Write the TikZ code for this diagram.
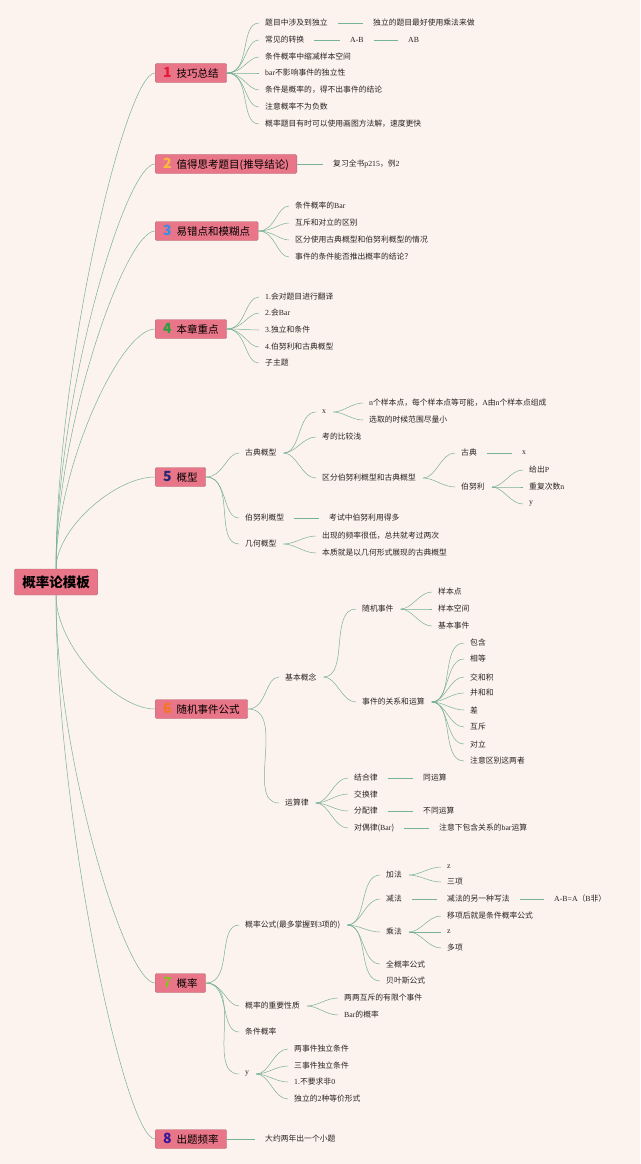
\documentclass[tikz,border=0pt]{standalone}
\usepackage{fontspec}
\setmainfont{Noto Sans CJK SC}
\newfontfamily\lafont{Liberation Serif}
\newcommand\lx[1]{{\lafont #1}}

\definecolor{bgpeach}{RGB}{253,243,238}
\definecolor{boxpink}{RGB}{233,118,136}
\definecolor{boxline}{RGB}{176,112,118}
\definecolor{linkgreen}{RGB}{118,178,148}
\definecolor{leaftext}{RGB}{40,36,36}
\definecolor{numA}{RGB}{228,28,56}
\definecolor{numB}{RGB}{250,188,58}
\definecolor{numC}{RGB}{58,140,228}
\definecolor{numD}{RGB}{42,160,62}
\definecolor{numE}{RGB}{38,38,118}
\definecolor{numF}{RGB}{245,118,32}
\definecolor{numG}{RGB}{140,190,40}
\definecolor{numH}{RGB}{52,22,150}

\newcommand\tnum[2]{{\color{#1}\fontsize{14}{14}\selectfont\bfseries #2}\hspace{5pt}}

\tikzset{
  root/.style={draw=boxline, fill=boxpink, rounded corners=1.5pt, inner xsep=8pt,
    minimum height=26pt, font=\fontsize{13.5}{15}\selectfont\bfseries},
  topic/.style={draw=boxline, fill=boxpink, rounded corners=1.5pt, inner xsep=8pt,
    minimum height=19pt, anchor=west, font=\fontsize{10.5}{12}\selectfont},
  leaf/.style={anchor=west, inner sep=1pt, text=leaftext, font=\fontsize{7.8}{9}\selectfont},
  link/.style={draw=linkgreen, line width=0.5pt},
  tfan/.style={link, shorten >=5pt},
  fan/.style={link, shorten <=6pt, shorten >=5pt},
  bar/.style={link, shorten <=9pt, shorten >=9pt},
}

\begin{document}
\begin{tikzpicture}[x=1pt, y=-1pt]

  % Background and page size
  \fill[bgpeach] (0,0) rectangle (640,1164);
  \useasboundingbox (0,0) rectangle (640,1164);

  % Root
  \node[root] (root) at (56,582) {概率论模板};

  % Main topics
  \node[topic] (t1) at (155,73) {\tnum{numA}{1}技巧总结};
  \node[topic] (t2) at (155,164) {\tnum{numB}{2}值得思考题目(推导结论)};
  \node[topic] (t3) at (155,231) {\tnum{numC}{3}易错点和模糊点};
  \node[topic] (t4) at (155,329) {\tnum{numD}{4}本章重点};
  \node[topic] (t5) at (155,477) {\tnum{numE}{5}概型};
  \node[topic] (t6) at (155,709) {\tnum{numF}{6}随机事件公式};
  \node[topic] (t7) at (155,983) {\tnum{numG}{7}概率};
  \node[topic] (t8) at (155,1139) {\tnum{numH}{8}出题频率};

  % Root to topics
  \draw[link] (root.north) to[out=90,in=180,out distance=200pt,in distance=30pt] (t1.west);
  \draw[link] (root.north) to[out=90,in=180,out distance=170pt,in distance=30pt] (t2.west);
  \draw[link] (root.north) to[out=90,in=180,out distance=140pt,in distance=30pt] (t3.west);
  \draw[link] (root.north) to[out=90,in=180,out distance=100pt,in distance=35pt] (t4.west);
  \draw[link] (root.north) to[out=90,in=180,out distance=40pt,in distance=40pt] (t5.west);
  \draw[link] (root.south) to[out=-90,in=180,out distance=50pt,in distance=40pt] (t6.west);
  \draw[link] (root.south) to[out=-90,in=180,out distance=160pt,in distance=30pt] (t7.west);
  \draw[link] (root.south) to[out=-90,in=180,out distance=220pt,in distance=30pt] (t8.west);

  % Topic 1
  \node[leaf] (a1) at (264,23) {题目中涉及到独立};
  \node[leaf] (a1a) at (372,23) {独立的题目最好使用乘法来做};
  \node[leaf] (a2) at (264,40) {常见的转换};
  \node[leaf] (a2a) at (349,40) {\lx{A-B}};
  \node[leaf] (a2b) at (407,40) {\lx{AB}};
  \node[leaf] (a3) at (264,57) {条件概率中缩减样本空间};
  \node[leaf] (a4) at (264,73) {\lx{bar}不影响事件的独立性};
  \node[leaf] (a5) at (264,90) {条件是概率的，得不出事件的结论};
  \node[leaf] (a6) at (264,107) {注意概率不为负数};
  \node[leaf] (a7) at (264,124) {概率题目有时可以使用画图方法解，速度更快};
  \foreach \c in {a1,a2,a3,a4,a5,a6,a7}
    \draw[tfan] (t1.east) to[out=0,in=180] (\c.west);
  \draw[bar] (a1) -- (a1a);
  \draw[bar] (a2) -- (a2a);
  \draw[bar] (a2a) -- (a2b);

  % Topic 2
  \node[leaf] (b1) at (332,164) {复习全书\lx{p215}，例\lx{2}};
  \draw[link, shorten >=9pt] (t2.east) -- (b1.west);

  % Topic 3
  \node[leaf] (c1) at (294,206) {条件概率的\lx{Bar}};
  \node[leaf] (c2) at (294,223) {互斥和对立的区别};
  \node[leaf] (c3) at (294,240) {区分使用古典概型和伯努利概型的情况};
  \node[leaf] (c4) at (294,257) {事件的条件能否推出概率的结论？};
  \foreach \c in {c1,c2,c3,c4}
    \draw[tfan] (t3.east) to[out=0,in=180] (\c.west);

  % Topic 4
  \node[leaf] (d1) at (264,297) {\lx{1.}会对题目进行翻译};
  \node[leaf] (d2) at (264,313) {\lx{2.}会\lx{Bar}};
  \node[leaf] (d3) at (264,330) {\lx{3.}独立和条件};
  \node[leaf] (d4) at (264,347) {\lx{4.}伯努利和古典概型};
  \node[leaf] (d5) at (264,363) {子主题};
  \foreach \c in {d1,d2,d3,d4,d5}
    \draw[tfan] (t4.east) to[out=0,in=180] (\c.west);

  % Topic 5
  \node[leaf] (e1) at (244,453) {古典概型};
  \node[leaf] (e11) at (321,412) {\lx{x}};
  \node[leaf] (e111) at (368,403) {\lx{n}个样本点，每个样本点等可能，\lx{A}由\lx{n}个样本点组成};
  \node[leaf] (e112) at (368,420) {选取的时候范围尽量小};
  \node[leaf] (e12) at (321,437) {考的比较浅};
  \node[leaf] (e13) at (321,478) {区分伯努利概型和古典概型};
  \node[leaf] (e131) at (460,453) {古典};
  \node[leaf] (e1311) at (521,453) {\lx{x}};
  \node[leaf] (e132) at (460,487) {伯努利};
  \node[leaf] (e1321) at (528,470) {给出\lx{P}};
  \node[leaf] (e1322) at (528,487) {重复次数\lx{n}};
  \node[leaf] (e1323) at (528,504) {\lx{y}};
  \node[leaf] (e2) at (244,518) {伯努利概型};
  \node[leaf] (e21) at (328,518) {考试中伯努利用得多};
  \node[leaf] (e3) at (244,544) {几何概型};
  \node[leaf] (e31) at (321,536) {出现的频率很低，总共就考过两次};
  \node[leaf] (e32) at (321,553) {本质就是以几何形式展现的古典概型};
  \foreach \c in {e1,e2,e3}
    \draw[tfan] (t5.east) to[out=0,in=180] (\c.west);
  \foreach \c in {e11,e12,e13}
    \draw[fan] (e1.east) to[out=0,in=180] (\c.west);
  \foreach \c in {e111,e112}
    \draw[fan] (e11.east) to[out=0,in=180] (\c.west);
  \foreach \c in {e131,e132}
    \draw[fan] (e13.east) to[out=0,in=180] (\c.west);
  \foreach \c in {e1321,e1322,e1323}
    \draw[fan] (e132.east) to[out=0,in=180] (\c.west);
  \foreach \c in {e31,e32}
    \draw[fan] (e3.east) to[out=0,in=180] (\c.west);
  \draw[bar] (e131) -- (e1311);
  \draw[bar] (e2) -- (e21);

  % Topic 6
  \node[leaf] (f1) at (284,677) {基本概念};
  \node[leaf] (f11) at (361,609) {随机事件};
  \node[leaf] (f111) at (437,592) {样本点};
  \node[leaf] (f112) at (437,609) {样本空间};
  \node[leaf] (f113) at (437,626) {基本事件};
  \node[leaf] (f12) at (361,702) {事件的关系和运算};
  \node[leaf] (f121) at (469,643) {包含};
  \node[leaf] (f122) at (469,659) {相等};
  \node[leaf] (f123) at (469,677) {交和积};
  \node[leaf] (f124) at (469,693) {并和和};
  \node[leaf] (f125) at (469,710) {差};
  \node[leaf] (f126) at (469,727) {互斥};
  \node[leaf] (f127) at (469,744) {对立};
  \node[leaf] (f128) at (469,761) {注意区别这两者};
  \node[leaf] (f2) at (284,803) {运算律};
  \node[leaf] (f21) at (353,778) {结合律};
  \node[leaf] (f21a) at (422,778) {同运算};
  \node[leaf] (f22) at (353,794) {交换律};
  \node[leaf] (f23) at (353,811) {分配律};
  \node[leaf] (f23a) at (422,811) {不同运算};
  \node[leaf] (f24) at (353,828) {对偶律(\lx{Bar})};
  \node[leaf] (f24a) at (438,828) {注意下包含关系的\lx{bar}运算};
  \foreach \c in {f1,f2}
    \draw[tfan] (t6.east) to[out=0,in=180] (\c.west);
  \foreach \c in {f11,f12}
    \draw[fan] (f1.east) to[out=0,in=180] (\c.west);
  \foreach \c in {f111,f112,f113}
    \draw[fan] (f11.east) to[out=0,in=180] (\c.west);
  \foreach \c in {f121,f122,f123,f124,f125,f126,f127,f128}
    \draw[fan] (f12.east) to[out=0,in=180] (\c.west);
  \foreach \c in {f21,f22,f23,f24}
    \draw[fan] (f2.east) to[out=0,in=180] (\c.west);
  \draw[bar] (f21) -- (f21a);
  \draw[bar] (f23) -- (f23a);
  \draw[bar] (f24) -- (f24a);

  % Topic 7
  \node[leaf] (g1) at (244,925) {概率公式(最多掌握到\lx{3}项的)};
  \node[leaf] (g11) at (385,875) {加法};
  \node[leaf] (g111) at (446,867) {\lx{z}};
  \node[leaf] (g112) at (446,882) {三项};
  \node[leaf] (g12) at (385,899) {减法};
  \node[leaf] (g121) at (446,899) {减法的另一种写法};
  \node[leaf] (g1211) at (553,899) {\lx{A-B=A}（\lx{B}非）};
  \node[leaf] (g13) at (385,932) {乘法};
  \node[leaf] (g131) at (446,916) {移项后就是条件概率公式};
  \node[leaf] (g132) at (446,932) {\lx{z}};
  \node[leaf] (g133) at (446,948) {多项};
  \node[leaf] (g14) at (385,964) {全概率公式};
  \node[leaf] (g15) at (385,981) {贝叶斯公式};
  \node[leaf] (g2) at (244,1006) {概率的重要性质};
  \node[leaf] (g21) at (343,998) {两两互斥的有限个事件};
  \node[leaf] (g22) at (343,1015) {\lx{Bar}的概率};
  \node[leaf] (g3) at (244,1032) {条件概率};
  \node[leaf] (g4) at (244,1074) {\lx{y}};
  \node[leaf] (g41) at (293,1049) {两事件独立条件};
  \node[leaf] (g42) at (293,1066) {三事件独立条件};
  \node[leaf] (g43) at (293,1082) {\lx{1.}不要求非\lx{0}};
  \node[leaf] (g44) at (293,1099) {独立的\lx{2}种等价形式};
  \foreach \c in {g1,g2,g3,g4}
    \draw[tfan] (t7.east) to[out=0,in=180] (\c.west);
  \foreach \c in {g11,g12,g13,g14,g15}
    \draw[fan] (g1.east) to[out=0,in=180] (\c.west);
  \foreach \c in {g111,g112}
    \draw[fan] (g11.east) to[out=0,in=180] (\c.west);
  \foreach \c in {g131,g132,g133}
    \draw[fan] (g13.east) to[out=0,in=180] (\c.west);
  \foreach \c in {g21,g22}
    \draw[fan] (g2.east) to[out=0,in=180] (\c.west);
  \foreach \c in {g41,g42,g43,g44}
    \draw[fan] (g4.east) to[out=0,in=180] (\c.west);
  \draw[bar] (g12) -- (g121);
  \draw[bar] (g121) -- (g1211);

  % Topic 8
  \node[leaf] (h1) at (264,1139) {大约两年出一个小题};
  \draw[link, shorten >=9pt] (t8.east) -- (h1.west);

\end{tikzpicture}
\end{document}
